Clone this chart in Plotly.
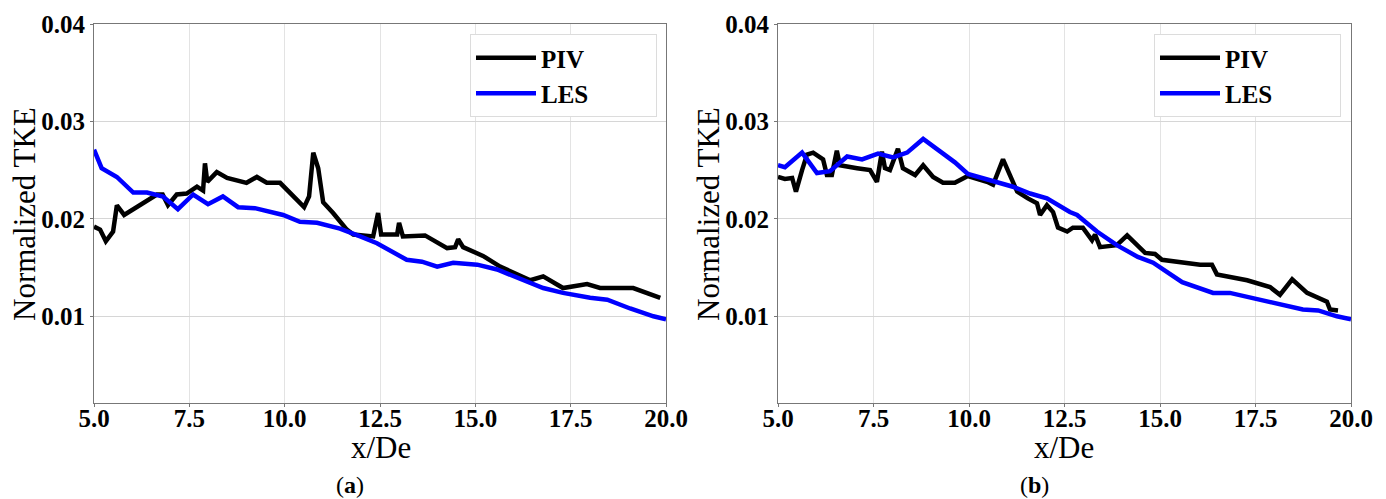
import plotly.graph_objects as go

# ---- Data (a) ----
piv_a_x = [5.0, 5.16, 5.31, 5.5, 5.6, 5.79, 6.65, 6.8, 6.94, 7.17, 7.43, 7.7, 7.86, 7.91, 7.97,
           8.22, 8.49, 9.0, 9.27, 9.53, 9.88, 10.32, 10.51, 10.64, 10.75, 10.88, 11.01, 11.27,
           11.63, 11.8, 12.32, 12.45, 12.53, 12.95, 13.0, 13.1, 13.68, 14.26, 14.47, 14.55,
           14.68, 15.2, 15.65, 16.44, 16.78, 17.3, 17.93, 18.27, 19.14, 19.85]
piv_a_y = [0.0192, 0.0189, 0.0177, 0.0187, 0.0214, 0.0204, 0.0225, 0.0225, 0.0214, 0.0225, 0.0226,
           0.0233, 0.0229, 0.0257, 0.0238, 0.0248, 0.0242, 0.0237, 0.0243, 0.0237, 0.0237, 0.0219,
           0.0212, 0.0223, 0.0268, 0.0252, 0.0217, 0.0206, 0.0189, 0.0184, 0.0182, 0.0206, 0.0184,
           0.0184, 0.0196, 0.0182, 0.0183, 0.0170, 0.0171, 0.0179, 0.0171, 0.0162, 0.0151, 0.0137,
           0.0141, 0.0129, 0.0133, 0.0129, 0.0129, 0.0119]
les_a_x = [5.0, 5.2, 5.6, 6.03, 6.39, 6.81, 7.2, 7.6, 7.99, 8.38, 8.78, 9.22, 9.96, 10.4, 10.85,
           11.45, 11.98, 12.42, 13.2, 13.6, 14.0, 14.42, 15.05, 15.57, 16.78, 17.3, 18.01, 18.46,
           19.06, 19.67, 20.0]
les_a_y = [0.0271, 0.0252, 0.0243, 0.0227, 0.0227, 0.0223, 0.0210, 0.0225, 0.0215, 0.0223, 0.0212,
           0.0211, 0.0204, 0.0197, 0.0196, 0.0190, 0.0182, 0.0175, 0.0158, 0.0156, 0.0151, 0.0155,
           0.0153, 0.0148, 0.0129, 0.0124, 0.0119, 0.0117, 0.0108, 0.0100, 0.0097]

# ---- Data (b) ----
piv_b_x = [5.0, 5.18, 5.37, 5.47, 5.63, 5.76, 5.92, 6.18, 6.28, 6.41, 6.54, 6.62, 7.07, 7.41, 7.59,
           7.72, 7.8, 7.93, 8.14, 8.27, 8.59, 8.8, 9.06, 9.32, 9.63, 9.97, 10.47, 10.63, 10.89,
           11.26, 11.54, 11.78, 11.86, 12.04, 12.2, 12.33, 12.57, 12.72, 12.98, 13.22, 13.3, 13.43,
           13.87, 14.14, 14.61, 14.87, 15.05, 15.52, 16.05, 16.36, 16.49, 17.28, 17.88, 18.14,
           18.46, 18.85, 19.37, 19.45, 19.66]
piv_b_y = [0.0243, 0.0241, 0.0242, 0.0228, 0.0250, 0.0266, 0.0268, 0.0261, 0.0245, 0.0245, 0.0270,
           0.0255, 0.0252, 0.0250, 0.0238, 0.0269, 0.0252, 0.0250, 0.0272, 0.0252, 0.0245, 0.0255,
           0.0243, 0.0237, 0.0237, 0.0244, 0.0238, 0.0235, 0.0261, 0.0228, 0.0221, 0.0216, 0.0204,
           0.0214, 0.0207, 0.0191, 0.0187, 0.0191, 0.0191, 0.0178, 0.0184, 0.0171, 0.0173, 0.0183,
           0.0165, 0.0164, 0.0158, 0.0156, 0.0153, 0.0153, 0.0143, 0.0137, 0.0130, 0.0122, 0.0138,
           0.0124, 0.0115, 0.0107, 0.0106]
les_b_x = [5.0, 5.18, 5.63, 6.02, 6.36, 6.81, 7.2, 7.62, 8.01, 8.38, 8.8, 9.24, 9.63, 9.97, 10.73,
           11.15, 11.6, 12.04, 12.64, 12.83, 13.35, 13.87, 14.42, 14.82, 15.58, 16.05, 16.39, 16.83,
           17.54, 18.06, 18.74, 19.14, 19.63, 20.0]
les_b_y = [0.0255, 0.0253, 0.0268, 0.0247, 0.0249, 0.0264, 0.0261, 0.0267, 0.0263, 0.0268, 0.0282,
           0.0269, 0.0258, 0.0246, 0.0238, 0.0233, 0.0226, 0.0221, 0.0207, 0.0204, 0.0187, 0.0173,
           0.0161, 0.0155, 0.0135, 0.0128, 0.0124, 0.0124, 0.0118, 0.0113, 0.0107, 0.0106, 0.0100,
           0.0097]

x_ticks = [5.0, 7.5, 10.0, 12.5, 15.0, 17.5, 20.0]
x_ticktext = ["5.0", "7.5", "10.0", "12.5", "15.0", "17.5", "20.0"]
y_ticks = [0.01, 0.02, 0.03, 0.04]
y_ticktext = ["0.01", "0.02", "0.03", "0.04"]
series_names = ["PIV", "LES"]

W, H = 1386, 499
SERIF = "Liberation Serif, Times New Roman, serif"
PAD = "\u00a0" * 10  # invisible padding to widen the legend box like the reference

fig = go.Figure()
fig.add_trace(go.Scatter(x=piv_a_x, y=piv_a_y, mode="lines", name=series_names[0] + PAD,
                         line=dict(color="black", width=4.5), legendgroup="a1",
                         xaxis="x", yaxis="y", legend="legend"))
fig.add_trace(go.Scatter(x=les_a_x, y=les_a_y, mode="lines", name=series_names[1] + PAD,
                         line=dict(color="#0000ff", width=4.5), legendgroup="a2",
                         xaxis="x", yaxis="y", legend="legend"))
fig.add_trace(go.Scatter(x=piv_b_x, y=piv_b_y, mode="lines", name=series_names[0] + PAD,
                         line=dict(color="black", width=4.5), legendgroup="b1",
                         xaxis="x2", yaxis="y2", legend="legend2"))
fig.add_trace(go.Scatter(x=les_b_x, y=les_b_y, mode="lines", name=series_names[1] + PAD,
                         line=dict(color="#0000ff", width=4.5), legendgroup="b2",
                         xaxis="x2", yaxis="y2", legend="legend2"))

tickfont = dict(family=SERIF, size=25, color="black", weight="bold")
xax = dict(range=[5, 20], tickvals=x_ticks, ticktext=x_ticktext, tickfont=tickfont,
           showgrid=True, gridcolor="#e3e3e3", gridwidth=1, showline=True, linecolor="#777",
           linewidth=1.2, mirror=True, ticks="outside", ticklen=3, tickcolor="#777",
           zeroline=False, automargin=False, ticklabelstandoff=-10)
yax = dict(range=[0.0011, 0.04], tickvals=y_ticks, ticktext=y_ticktext, tickfont=tickfont,
           showgrid=True, gridcolor="#d6d6d6", gridwidth=1, showline=True, linecolor="#777",
           linewidth=1.2, mirror=True, ticks="outside", ticklen=3, tickcolor="#777",
           zeroline=False, automargin=False)

yd = [1 - 403 / H, 1 - 24 / H]
legfont = dict(family=SERIF, size=25, color="black", weight="bold")
fig.update_layout(
    width=W, height=H, margin=dict(l=0, r=0, t=0, b=0, autoexpand=False),
    paper_bgcolor="white", plot_bgcolor="white",
    xaxis=dict(domain=[94 / W, 666 / W], anchor="y", **xax),
    yaxis=dict(domain=yd, anchor="x", **yax),
    xaxis2=dict(domain=[778 / W, 1351 / W], anchor="y2", **xax),
    yaxis2=dict(domain=yd, anchor="x2", **yax),
    legend=dict(x=470 / W, y=1 - 34 / H, xanchor="left", yanchor="top",
                bgcolor="white", bordercolor="#dcdcdc", borderwidth=1,
                font=legfont, tracegroupgap=0, itemwidth=60),
    legend2=dict(x=1154 / W, y=1 - 34 / H, xanchor="left", yanchor="top",
                 bgcolor="white", bordercolor="#dcdcdc", borderwidth=1,
                 font=legfont, tracegroupgap=0, itemwidth=60),
    showlegend=True,
)

ann_font = dict(family=SERIF, size=31, color="black")
annotations = [
    dict(text="Normalized TKE", x=24 / W, y=1 - 214 / H, textangle=-90, font=ann_font),
    dict(text="Normalized TKE", x=708 / W, y=1 - 214 / H, textangle=-90, font=ann_font),
    dict(text="x/De", x=381 / W, y=1 - 447 / H, font=ann_font),
    dict(text="x/De", x=1064 / W, y=1 - 447 / H, font=ann_font),
    dict(text="(<b>a</b>)", x=350 / W, y=1 - 485 / H, font=dict(family=SERIF, size=24, color="black")),
    dict(text="(<b>b</b>)", x=1034 / W, y=1 - 485 / H, font=dict(family=SERIF, size=24, color="black")),
]
for a in annotations:
    a.update(xref="paper", yref="paper", showarrow=False, xanchor="center", yanchor="middle")
fig.update_layout(annotations=annotations)

fig.write_html("out.html")
